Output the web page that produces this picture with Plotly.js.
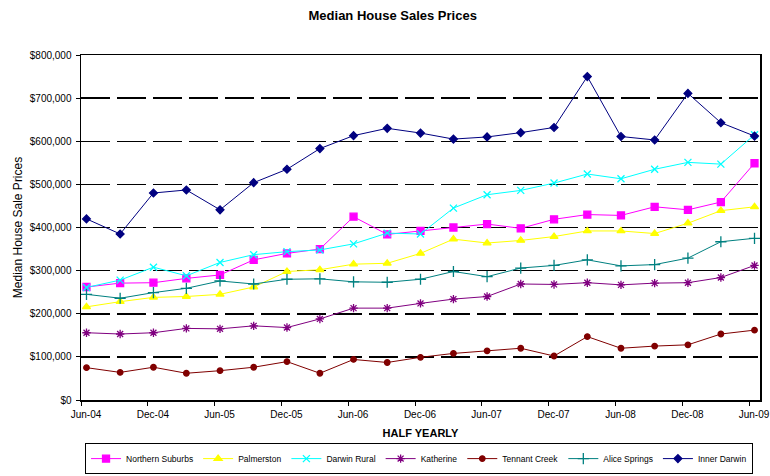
<!DOCTYPE html>
<html>
<head>
<meta charset="utf-8">
<script src="https://cdn.plot.ly/plotly-3.0.1.min.js"></script>
<style>html,body{margin:0;padding:0;background:#fff;}#chart{width:770px;height:476px;}</style>
</head>
<body>
<div id="chart"></div>
<script>
const periods = ["Jun-04","Sep-04","Dec-04","Mar-05","Jun-05","Sep-05","Dec-05","Mar-06","Jun-06","Sep-06","Dec-06","Mar-07","Jun-07","Sep-07","Dec-07","Mar-08","Jun-08","Sep-08","Dec-08","Mar-09","Jun-09"];
const tickLabels = ["Jun-04","Dec-04","Jun-05","Dec-05","Jun-06","Dec-06","Jun-07","Dec-07","Jun-08","Dec-08","Jun-09"];

const northernSuburbs = [262000,271000,272000,282000,290000,325000,340000,350000,425000,384000,392000,400000,408000,398000,419000,430000,428000,448000,441000,459000,549000];
const palmerston      = [216000,228000,238000,240000,245000,262000,298000,302000,315000,317000,340000,373000,364000,370000,379000,392000,392000,386000,410000,439000,448000];
const darwinRural     = [261000,278000,308000,288000,319000,337000,344000,348000,362000,387000,385000,445000,476000,486000,503000,524000,513000,535000,551000,547000,615000];
const katherine       = [156000,153000,156000,166000,165000,172000,168000,188000,213000,213000,224000,234000,240000,269000,268000,272000,267000,271000,272000,284000,312000];
const tennantCreek    = [75000,64000,76000,62000,68000,76000,89000,62000,94000,87000,99000,108000,114000,120000,102000,147000,120000,125000,128000,153000,162000];
const aliceSprings    = [245000,236000,249000,259000,276000,269000,280000,281000,274000,273000,280000,298000,286000,306000,312000,325000,311000,314000,329000,367000,375000];
const innerDarwin     = [420000,385000,480000,487000,441000,504000,535000,583000,613000,630000,619000,605000,610000,620000,632000,750000,611000,603000,711000,643000,612000];

const seriesNames = ["Northern Suburbs","Palmerston","Darwin Rural","Katherine","Tennant Creek","Alice Springs","Inner Darwin"];
const seriesData = [northernSuburbs,palmerston,darwinRural,katherine,tennantCreek,aliceSprings,innerDarwin];
const colors = ["#FF00FF","#FFFF00","#00FFFF","#800080","#800000","#008080","#000080"];
const symbols = ["square","triangle-up","x-thin-open","asterisk-open","circle","cross-thin-open","diamond"];
const sizes = [7,7,7,7,5.5,8,6];

// Month label "Jun-04" -> date string. Points sit mid-month (Excel date axis, month base unit).
const MONTHS = {Jan:"01",Feb:"02",Mar:"03",Apr:"04",May:"05",Jun:"06",Jul:"07",Aug:"08",Sep:"09",Oct:"10",Nov:"11",Dec:"12"};
function monthStart(lbl){const [m,y]=lbl.split("-");return "20"+y+"-"+MONTHS[m]+"-01";}
function monthMid(lbl){const [m,y]=lbl.split("-");return "20"+y+"-"+MONTHS[m]+"-16";}
const xDates = periods.map(monthMid);
const tickDates = tickLabels.map(monthStart);

const FONT = "Liberation Sans, Arial, sans-serif";

const traces = seriesNames.map((name,i)=>({
  type:"scatter",
  mode:"lines+markers",
  name:name,
  x:xDates,
  y:seriesData[i],
  line:{color:colors[i],width:1},
  marker:{symbol:symbols[i],size:sizes[i],color:colors[i],line:{color:colors[i],width:1.3}}
}));

const NB = "\u00A0";
const layout = {
  width:770,height:476,
  paper_bgcolor:"#fff",plot_bgcolor:"#fff",
  margin:{l:81,r:10,t:55,b:76,pad:0},
  font:{family:FONT,size:9,color:"#000"},
  title:{text:"<b>Median House Sales Prices</b>",font:{family:FONT,size:13,color:"#000"},
    xref:"container",x:0.51,xanchor:"center",yref:"container",y:0.967,yanchor:"middle"},
  showlegend:true,
  legend:{orientation:"h",xref:"container",x:0.5442,xanchor:"center",yref:"container",y:0.004,yanchor:"bottom",
    bordercolor:"#000",borderwidth:1,bgcolor:"#fff",
    font:{family:FONT,size:8.5,color:"#000"},itemwidth:30,tracegroupgap:0},
  xaxis:{
    type:"date",
    range:["2004-06-01","2009-07-01"],
    tickmode:"array",tickvals:tickDates,ticktext:tickLabels,
    ticks:"outside",ticklen:4,tickcolor:"#000",tickwidth:1,
    ticklabelshift:5,
    tickfont:{family:FONT,size:10,color:"#000"},
    showline:true,linecolor:"#000",linewidth:1.5,mirror:true,
    showgrid:false,zeroline:false,automargin:false,
    title:{text:"<b>HALF YEARLY</b>",font:{family:FONT,size:11,color:"#000"},standoff:11}
  },
  yaxis:{
    range:[0,800000],
    tickmode:"linear",tick0:0,dtick:100000,
    tickformat:"$,.0f",
    ticks:"outside",ticklen:4,tickcolor:"#000",tickwidth:1,
    ticklabelstandoff:2,
    tickfont:{family:FONT,size:10,color:"#000"},
    showline:true,linecolor:"#000",linewidth:1.5,mirror:true,
    showgrid:true,gridcolor:"#000",gridwidth:1.5,griddash:"29px,7px",
    zeroline:false,automargin:false,
    title:{text:"Median House Sale Prices"+NB.repeat(8),font:{family:FONT,size:12,color:"#000"},standoff:4}
  }
};

Plotly.newPlot("chart",traces,layout,{displayModeBar:false,staticPlot:true});
</script>
</body>
</html>
